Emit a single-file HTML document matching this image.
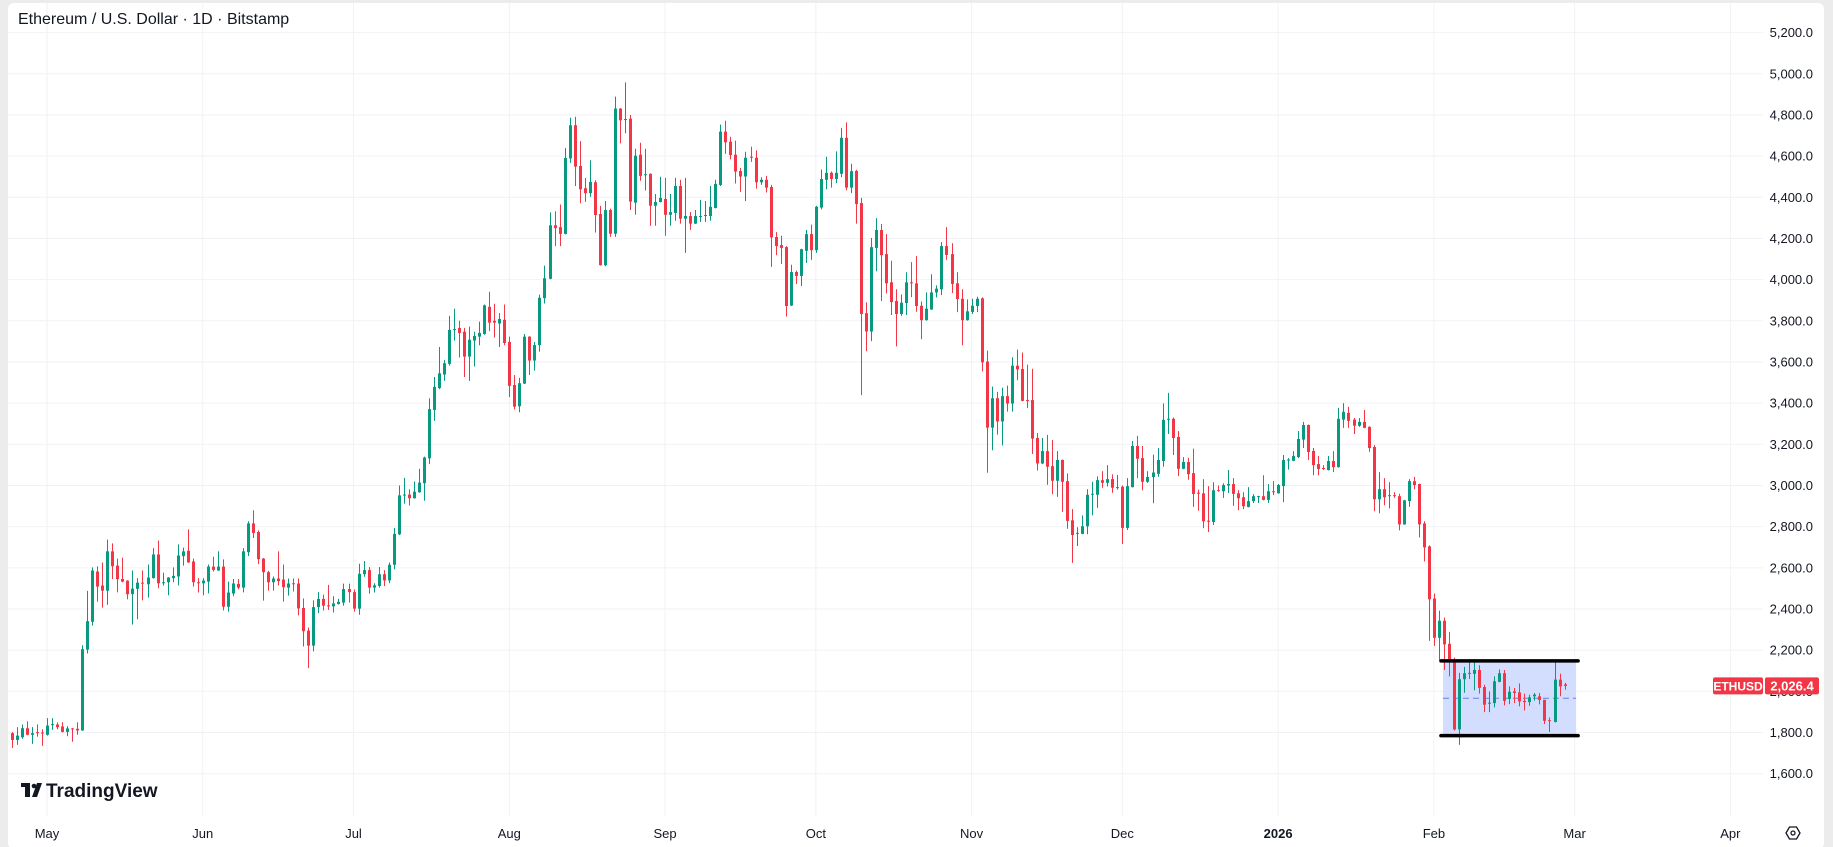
<!DOCTYPE html>
<html><head><meta charset="utf-8"><style>
html,body{margin:0;padding:0;background:#ececec;}
svg{display:block;font-family:"Liberation Sans",sans-serif;}
</style></head><body>
<svg id="chart" width="1833" height="847" viewBox="0 0 1833 847">
<rect x="0" y="0" width="1833" height="847" fill="#ececec"/>
<rect x="8" y="3" width="1816" height="846" rx="6" fill="#ffffff"/>
<g id="grid"></g>
<g id="box"></g>
<g id="candles"></g>
<g id="boxlines"></g>
<g id="yaxis"></g>
<g id="xaxis"></g>
<text x="18" y="24" font-size="16" fill="#131722">Ethereum / U.S. Dollar · 1D · Bitstamp</text>
<g>
<rect x="21" y="783" width="9" height="4" fill="#131722"/>
<rect x="25" y="783" width="5" height="14" fill="#131722"/>
<circle cx="34" cy="786" r="2.3" fill="#131722"/>
<polygon points="37,783 42,783 37,797 32,797" fill="#131722"/>
<text x="46" y="797" font-size="19" font-weight="bold" fill="#131722">TradingView</text>
</g>
<g>
<polygon points="1786,833 1789.5,827 1796.5,827 1800,833 1796.5,839 1789.5,839" fill="none" stroke="#131722" stroke-width="1.3"/>
<circle cx="1793" cy="833" r="2" fill="none" stroke="#131722" stroke-width="1.3"/>
</g>
</svg>
<script>
const opens=[1797,1764,1777,1821,1789,1802,1800,1789,1839,1839,1829,1803,1820,1818,1810,2203,2338,2582,2514,2489,2680,2611,2546,2538,2472,2498,2528,2520,2550,2665,2525,2530,2550,2558,2657,2683,2631,2530,2525,2533,2606,2587,2606,2411,2475,2522,2504,2676,2816,2774,2645,2579,2530,2548,2543,2504,2525,2524,2405,2295,2222,2409,2449,2418,2413,2424,2431,2497,2482,2402,2569,2589,2504,2512,2569,2539,2615,2763,2952,2956,2938,2967,3011,3132,3367,3473,3539,3591,3758,3765,3747,3626,3704,3723,3736,3868,3800,3787,3805,3697,3488,3385,3495,3723,3607,3682,3910,4004,4264,4255,4222,4589,4750,4552,4444,4420,4473,4319,4070,4338,4223,4831,4778,4782,4374,4607,4510,4514,4359,4377,4392,4315,4324,4455,4296,4309,4272,4307,4311,4309,4348,4460,4719,4670,4607,4528,4501,4597,4592,4473,4485,4450,4207,4168,4158,3874,4037,4018,4140,4221,4143,4350,4485,4519,4489,4514,4689,4447,4528,4372,3837,3748,4154,4241,4124,3987,3896,3833,3886,3987,3982,3873,3803,3855,3938,3953,4163,4124,3982,3907,3803,3843,3872,3909,3602,3281,3424,3311,3434,3398,3582,3566,3415,3415,3231,3107,3167,3094,3023,3124,3021,2831,2766,2765,2802,2955,2955,3026,3013,3031,2990,2994,2794,2992,3192,3133,3018,3041,3057,3119,3320,3324,3236,3081,3114,3060,2965,2962,2829,2823,2977,2972,3000,3007,2962,2943,2896,2924,2946,2948,2930,2972,2962,2997,3124,3120,3138,3223,3294,3168,3104,3085,3075,3119,3089,3320,3353,3320,3290,3309,3285,3187,2933,2982,2951,2953,2948,2811,2924,3021,3007,2816,2704,2451,2260,2343,2231,2143,1815,2059,2088,2085,2104,2021,1940,1943,2046,2088,1963,2000,1995,1954,1948,1976,1976,1959,1860,1851,2057,2034];
const highs=[1802,1826,1839,1855,1826,1839,1816,1870,1870,1849,1850,1831,1822,1850,2224,2488,2602,2607,2626,2737,2719,2645,2649,2540,2587,2550,2587,2616,2696,2733,2577,2555,2602,2714,2698,2787,2645,2550,2550,2616,2654,2680,2641,2533,2546,2546,2696,2826,2880,2782,2648,2585,2558,2680,2616,2548,2548,2548,2451,2310,2442,2482,2470,2517,2462,2449,2523,2523,2495,2620,2633,2604,2525,2604,2589,2626,2794,3000,3037,2981,3020,3081,3140,3424,3527,3673,3609,3824,3859,3800,3765,3772,3747,3796,3879,3941,3883,3837,3879,3723,3537,3523,3736,3725,3697,3927,4068,4327,4332,4365,4639,4787,4791,4673,4494,4580,4483,4358,4382,4345,4889,4833,4958,4800,4636,4665,4636,4516,4416,4499,4494,4416,4494,4485,4494,4328,4338,4387,4382,4455,4485,4753,4772,4694,4675,4543,4621,4646,4628,4498,4504,4460,4231,4213,4163,4072,4044,4150,4242,4267,4358,4535,4597,4525,4623,4737,4764,4563,4533,4397,3890,4202,4299,4270,4221,4092,3953,3928,4036,4085,4114,3894,3938,4026,3972,4182,4255,4177,4036,3953,3904,3907,3917,3914,3655,3480,3455,3475,3485,3623,3660,3646,3587,3567,3255,3231,3246,3221,3167,3126,3059,2885,2797,2855,2982,3018,3044,3070,3099,3054,3051,3000,3036,3216,3241,3192,3070,3150,3182,3398,3450,3330,3265,3138,3135,3179,2980,3031,2997,3016,3000,3011,3075,3036,2977,2967,2992,2958,2950,3050,3007,3021,3007,3148,3133,3167,3265,3309,3296,3182,3143,3099,3143,3167,3377,3400,3382,3328,3328,3367,3287,3197,3065,3036,3016,2967,2960,2930,3031,3042,3009,2826,2709,2475,2392,2358,2289,2164,2090,2119,2148,2143,2127,2032,2000,2073,2106,2104,2024,2016,2039,1989,1984,1992,1992,1959,1873,2151,2086,2041];
const lows=[1725,1740,1770,1787,1745,1780,1735,1785,1813,1815,1800,1782,1755,1789,1808,2184,2319,2436,2407,2420,2546,2481,2530,2447,2325,2350,2442,2455,2548,2501,2514,2467,2530,2515,2611,2624,2509,2480,2467,2476,2582,2585,2393,2387,2462,2496,2481,2657,2745,2618,2441,2489,2489,2514,2436,2465,2485,2369,2218,2113,2194,2380,2393,2395,2383,2422,2416,2431,2387,2372,2557,2475,2480,2504,2512,2525,2593,2759,2912,2903,2936,2965,2926,3104,3314,3468,3508,3582,3704,3622,3527,3508,3578,3681,3732,3750,3719,3673,3682,3429,3369,3356,3493,3537,3558,3650,3884,4002,4163,4163,4220,4567,4455,4371,4378,4402,4229,4068,4065,4208,4208,4662,4711,4338,4315,4480,4433,4262,4262,4375,4213,4262,4286,4272,4130,4242,4270,4280,4280,4286,4346,4455,4611,4584,4467,4426,4382,4572,4442,4460,4423,4062,4119,4076,3821,3872,3979,3969,4081,4096,4130,4341,4439,4447,4468,4498,4434,4420,4272,3439,3652,3701,4041,3896,3933,3828,3676,3824,3828,3915,3844,3711,3801,3853,3914,3925,4096,3935,3842,3681,3801,3833,3842,3554,3062,3171,3247,3194,3359,3359,3511,3409,3376,3153,3072,3104,3003,2958,2945,2872,2790,2624,2706,2763,2763,2855,2891,2989,2995,2964,2980,2716,2784,2990,3036,2977,3013,2914,3042,3091,3250,3148,3046,3079,3028,2896,2878,2792,2774,2808,2970,2940,2963,2901,2880,2885,2894,2915,2915,2928,2915,2953,2960,2919,3077,3118,3133,3182,3124,3050,3050,3075,3073,3065,3087,3280,3280,3250,3285,3278,3163,2875,2865,2904,2889,2940,2782,2809,2896,2982,2748,2631,2245,2221,2153,2104,2073,1810,1740,1993,2060,2005,1989,1899,1899,1922,2044,1932,1938,1943,1927,1907,1930,1955,1937,1841,1802,1849,1976,2008];
const closes=[1764,1785,1821,1789,1797,1797,1797,1834,1841,1826,1803,1820,1818,1810,2205,2341,2587,2509,2489,2680,2608,2545,2533,2472,2499,2528,2525,2553,2665,2525,2530,2553,2561,2660,2680,2626,2530,2525,2538,2606,2590,2606,2411,2480,2524,2504,2680,2816,2769,2642,2579,2530,2548,2535,2506,2524,2522,2403,2292,2222,2409,2449,2416,2416,2427,2435,2497,2482,2402,2571,2589,2504,2515,2569,2539,2615,2765,2952,2956,2938,2970,3014,3136,3371,3479,3545,3594,3756,3760,3741,3626,3708,3726,3741,3875,3791,3791,3809,3692,3484,3383,3497,3723,3607,3682,3912,4007,4264,4250,4222,4591,4750,4549,4439,4420,4475,4314,4070,4338,4223,4831,4774,4780,4379,4602,4504,4512,4359,4377,4397,4315,4328,4455,4296,4309,4272,4309,4309,4314,4354,4465,4719,4667,4605,4525,4501,4592,4595,4473,4485,4447,4205,4163,4154,3872,4037,4018,4148,4221,4143,4354,4489,4519,4489,4519,4689,4447,4527,4367,3833,3748,4158,4241,4119,3982,3891,3833,3888,3987,3984,3872,3803,3859,3938,3956,4163,4120,3979,3906,3803,3846,3873,3907,3598,3281,3424,3311,3434,3398,3582,3564,3411,3413,3228,3107,3167,3091,3023,3124,3018,2828,2759,2770,2802,2955,2960,3026,3013,3031,2989,2992,2794,2997,3192,3130,3018,3041,3063,3124,3319,3324,3231,3081,3114,3055,2959,2962,2826,2826,2977,2975,3002,3007,2959,2938,2899,2924,2948,2948,2930,2972,2970,3002,3124,3126,3143,3226,3294,3163,3099,3080,3083,3119,3089,3324,3358,3314,3290,3309,3280,3182,2933,2982,2943,2953,2951,2811,2928,3021,3002,2811,2699,2447,2260,2343,2228,2143,1815,2059,2088,2090,2104,2017,1935,1945,2049,2088,1954,1998,1992,1951,1948,1971,1984,1958,1857,1858,2057,2024,2026.4];
const firstDayOffset=-7;
const priceTicks=[5200,5000,4800,4600,4400,4200,4000,3800,3600,3400,3200,3000,2800,2600,2400,2200,2000,1800,1600];
const monthLabels=["May","Jun","Jul","Aug","Sep","Oct","Nov","Dec","2026","Feb","Mar","Apr"];
const monthDays=[0,31,61,92,123,153,184,214,245,276,304,335];
const boxPrices=[2148,1785];
const boxCandleRange=[285.8,312.3];
const lastPrice=2026.4;

const NS="http://www.w3.org/2000/svg";
function dayX(d){return 47+d*5.025;}
function xs(i){return dayX(i+firstDayOffset);}
function ys(p){return 32.6+(5200-p)*0.20586;}
function mk(tag,attrs,parent){const e=document.createElementNS(NS,tag);for(const k in attrs)e.setAttribute(k,attrs[k]);parent.appendChild(e);return e;}
const grid=document.getElementById('grid'),cg=document.getElementById('candles'),ya=document.getElementById('yaxis'),xa=document.getElementById('xaxis'),bx=document.getElementById('box'),bl=document.getElementById('boxlines');

priceTicks.forEach(p=>{
  const l=mk('line',{x1:8,x2:1763,y1:ys(p),y2:ys(p),stroke:'#f0f2f5','stroke-width':1},grid);
  
  
  const t=mk('text',{x:1813,y:ys(p)+4.5,'text-anchor':'end','font-size':13,fill:'#131722'},ya);
  t.textContent=p.toLocaleString('en-US',{minimumFractionDigits:1,maximumFractionDigits:1});
  
  
});
monthLabels.forEach((m,k)=>{
  const x=dayX(monthDays[k]);
  const l=mk('line',{x1:x,x2:x,y1:3,y2:816,stroke:'#f0f2f5','stroke-width':1},grid);
  
  
  const t=mk('text',{x:x,y:838,'text-anchor':'middle','font-size':13,fill:'#131722','font-weight':m==='2026'?'bold':'normal'},xa);
  t.textContent=m;
  
  
});

const bx1=xs(boxCandleRange[0]-1),bx2=xs(boxCandleRange[1]-1);
const br=mk('rect',{x:bx1,y:ys(boxPrices[0]),width:bx2-bx1,height:ys(boxPrices[1])-ys(boxPrices[0]),fill:'#d3ddfd'},bx);


const mid=(boxPrices[0]+boxPrices[1])/2;
const ml=mk('line',{x1:bx1,x2:bx2,y1:ys(mid),y2:ys(mid),stroke:'#5b86f2','stroke-width':1,'stroke-dasharray':'6,4'},bx);



for(let i=0;i<closes.length;i++){
  const o=opens[i],c=closes[i],h=highs[i],lo=lows[i];
  const col=c>=o?'#089981':'#f23645';
  const x=Math.round(xs(i));
  const g=mk('g',{},cg);
  
  
  mk('line',{x1:x+0.5,x2:x+0.5,y1:ys(h),y2:ys(lo),stroke:col,'stroke-width':1},g);
  const top=ys(Math.max(o,c)),bot=ys(Math.min(o,c));
  mk('rect',{x:x-1,y:top,width:3,height:Math.max(1,bot-top),fill:col},g);
}

boxPrices.forEach(p=>{
  const l=mk('line',{x1:bx1-2,x2:bx2+2,y1:ys(p),y2:ys(p),stroke:'#000','stroke-width':3.5,'stroke-linecap':'round'},bl);
  
  
});

const ly=ys(lastPrice);
const sym=mk('rect',{x:1713,y:ly-8.5,width:50,height:17,rx:2,fill:'#f23645'},ya);


const st=mk('text',{x:1738,y:ly+4.5,'text-anchor':'middle','font-size':12,'font-weight':'bold',fill:'#fff'},ya);
st.textContent='ETHUSD';


const pb=mk('rect',{x:1765,y:ly-8.5,width:54,height:17,rx:2,fill:'#f23645'},ya);


const pt=mk('text',{x:1792,y:ly+4.5,'text-anchor':'middle','font-size':13,'font-weight':'bold',fill:'#fff'},ya);
pt.textContent=lastPrice.toLocaleString('en-US',{minimumFractionDigits:1});


</script>
</body></html>
